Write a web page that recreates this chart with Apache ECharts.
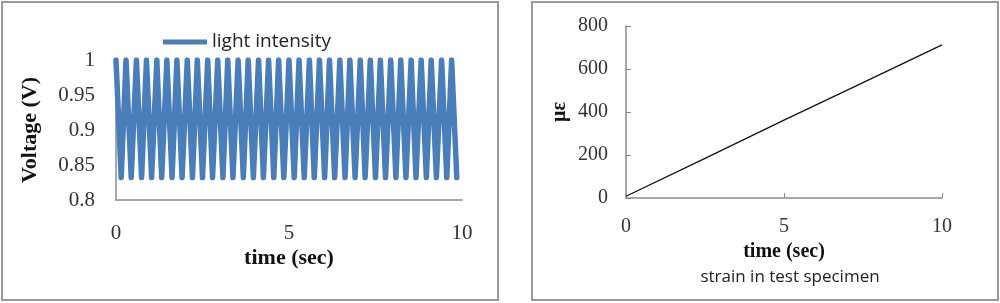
<!DOCTYPE html>
<html>
<head>
<meta charset="utf-8">
<script src="https://cdn.jsdelivr.net/npm/echarts@6/dist/echarts.min.js"></script>
<style>
  html, body { margin: 0; padding: 0; background: #ffffff; }
  #chart { width: 1000px; height: 303px; }
</style>
</head>
<body>
<div id="chart"></div>
<script>
// ---- Left panel: light intensity (Voltage vs time) ----
const lightTimes = [
  0, 0.15, 0.29, 0.44, 0.59, 0.74, 0.88, 1.03, 1.18, 1.32,
  1.47, 1.62, 1.76, 1.91, 2.06, 2.21, 2.35, 2.50, 2.65, 2.79,
  2.94, 3.09, 3.23, 3.38, 3.53, 3.68, 3.82, 3.97, 4.12, 4.26,
  4.41, 4.56, 4.70, 4.85, 5.00, 5.15, 5.29, 5.44, 5.59, 5.73,
  5.88, 6.03, 6.17, 6.32, 6.47, 6.62, 6.76, 6.91, 7.06, 7.20,
  7.35, 7.50, 7.64, 7.79, 7.94, 8.09, 8.23, 8.38, 8.53, 8.67,
  8.82, 8.97, 9.11, 9.26, 9.41, 9.56, 9.70, 9.85
];
const lightVolts = [
  1, 0.832, 1, 0.832, 1, 0.832, 1, 0.832, 1, 0.832,
  1, 0.832, 1, 0.832, 1, 0.832, 1, 0.832, 1, 0.832,
  1, 0.832, 1, 0.832, 1, 0.832, 1, 0.832, 1, 0.832,
  1, 0.832, 1, 0.832, 1, 0.832, 1, 0.832, 1, 0.832,
  1, 0.832, 1, 0.832, 1, 0.832, 1, 0.832, 1, 0.832,
  1, 0.832, 1, 0.832, 1, 0.832, 1, 0.832, 1, 0.832,
  1, 0.832, 1, 0.832, 1, 0.832, 1, 0.832
];
const leftYTicks = { min: 0.8, max: 1, interval: 0.05 };
const timeTicks = { min: 0, max: 10, interval: 5 };

// ---- Right panel: strain in test specimen ----
const strainTimes = [0, 2.5, 5, 7.5, 10];
const strainVals = [8, 184, 362, 537, 712];
const rightYTicks = { min: 0, max: 800, interval: 200 };

const seriesName = 'light intensity';
const strainTitle = 'strain in test specimen';

const serif = '"Liberation Serif", "Times New Roman", serif';
const sans = '"Open Sans", "Liberation Sans", sans-serif';
const axisGray = '#8c8c8c';
const textCol = '#333333';

const chart = echarts.init(document.getElementById('chart'), null, { renderer: 'canvas' });

const lightData = lightTimes.map((t, i) => [t, lightVolts[i]]);
const strainData = strainTimes.map((t, i) => [t, strainVals[i]]);

chart.setOption({
  animation: false,
  backgroundColor: '#ffffff',
  legend: {
    data: [seriesName],
    left: 163,
    top: 32,
    padding: 0,
    icon: 'rect',
    itemWidth: 44,
    itemHeight: 5,
    textStyle: { fontFamily: sans, fontSize: 19, color: '#222', lineHeight: 20 }
  },
  graphic: [
    { type: 'rect', shape: { x: 2, y: 2, width: 496, height: 298 },
      style: { fill: 'none', stroke: '#999999', lineWidth: 2 }, silent: true },
    { type: 'rect', shape: { x: 532, y: 2, width: 466, height: 298 },
      style: { fill: 'none', stroke: '#999999', lineWidth: 2 }, silent: true },
    { type: 'text', x: 790, y: 277,
      style: { text: strainTitle, font: '17px ' + sans, fill: '#222', align: 'center', verticalAlign: 'middle' } }
  ],
  grid: [
    { left: 116, top: 60, width: 346, height: 140, containLabel: false },
    { left: 626, top: 26, width: 316, height: 172, containLabel: false }
  ],
  xAxis: [
    {
      gridIndex: 0, type: 'value',
      min: timeTicks.min, max: timeTicks.max, interval: timeTicks.interval,
      name: 'time (sec)', nameLocation: 'middle', nameGap: 47,
      nameTextStyle: { fontFamily: serif, fontSize: 22, fontWeight: 'bold', color: '#111' },
      axisLine: { show: true, lineStyle: { color: axisGray, width: 1.5 } },
      axisTick: { show: false },
      axisLabel: { margin: 23, fontFamily: serif, fontSize: 21, color: textCol },
      splitLine: { show: false }
    },
    {
      gridIndex: 1, type: 'value',
      min: timeTicks.min, max: timeTicks.max, interval: timeTicks.interval,
      name: 'time (sec)', nameLocation: 'middle', nameGap: 39,
      nameTextStyle: { fontFamily: serif, fontSize: 20, fontWeight: 'bold', color: '#111' },
      axisLine: { show: true, onZero: false, lineStyle: { color: axisGray, width: 1.5 } },
      axisTick: { show: true, inside: true, length: 5, lineStyle: { color: axisGray } },
      axisLabel: { margin: 19, fontFamily: serif, fontSize: 20, color: textCol },
      splitLine: { show: false }
    }
  ],
  yAxis: [
    {
      gridIndex: 0, type: 'value',
      min: leftYTicks.min, max: leftYTicks.max, interval: leftYTicks.interval,
      name: 'Voltage (V)', nameLocation: 'middle', nameGap: 75,
      nameTextStyle: { fontFamily: serif, fontSize: 22, fontWeight: 'bold', color: '#111' },
      axisLine: { show: true, lineStyle: { color: axisGray, width: 1.5 } },
      axisTick: { show: false },
      axisLabel: { margin: 21, fontFamily: serif, fontSize: 21, color: textCol },
      splitLine: { show: false }
    },
    {
      gridIndex: 1, type: 'value',
      min: rightYTicks.min, max: rightYTicks.max, interval: rightYTicks.interval,
      name: 'με', nameLocation: 'middle', nameGap: 56,
      nameTextStyle: { fontFamily: serif, fontSize: 20, fontWeight: 'bold', color: '#111' },
      axisLine: { show: true, onZero: false, lineStyle: { color: axisGray, width: 1.5 } },
      axisTick: { show: true, inside: true, length: 5, lineStyle: { color: axisGray } },
      axisLabel: { margin: 18, fontFamily: serif, fontSize: 20, color: textCol },
      splitLine: { show: false }
    }
  ],
  series: [
    {
      name: seriesName, type: 'line', xAxisIndex: 0, yAxisIndex: 0,
      data: lightData, showSymbol: false, symbol: 'none', clip: true,
      itemStyle: { color: '#4a7ebb' },
      lineStyle: { color: '#4a7ebb', width: 5.5, join: 'round', cap: 'round' }
    },
    {
      name: 'strain', type: 'line', xAxisIndex: 1, yAxisIndex: 1,
      data: strainData, showSymbol: false, symbol: 'none',
      itemStyle: { color: '#000' },
      lineStyle: { color: '#111', width: 1.3 }
    }
  ]
});
</script>
</body>
</html>
